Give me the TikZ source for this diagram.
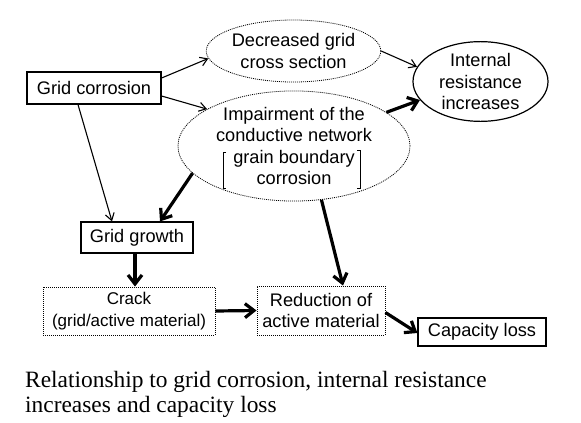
\documentclass[tikz,border=0pt]{standalone}
\usepackage{fontspec}
\setmainfont{Liberation Sans}
\newfontfamily\capfont{Liberation Serif}
\usetikzlibrary{arrows.meta,shapes.geometric}
\begin{document}
\begin{tikzpicture}[x=1pt,y=-1pt]
		\tikzstyle{every node}+=[inner sep=0pt, align=center, font=\fontsize{18.2}{21.5}\selectfont]
		\tikzstyle{solidbox}=[draw=black, line width=1.2pt, rectangle]
		\tikzstyle{dotbox}=[draw=black, line width=0.9pt, dash pattern=on 1pt off 1pt, rectangle]
		\tikzstyle{dotoval}=[draw=black, line width=0.8pt, dash pattern=on 1pt off 1pt, ellipse]
		\tikzstyle{thinarrow}=[black, line width=1.1pt, -{Straight Barb[length=7pt,width=9pt]}]
		\tikzstyle{thickarrow}=[black, line width=3.2pt, -{Straight Barb[length=9pt,width=14pt]}]
		\useasboundingbox (0,0) rectangle (581,423);
		\node [solidbox, minimum width=134pt, minimum height=32pt] (gridcorr) at (94,88) {Grid corrosion};
		\node [dotoval, minimum width=169pt, minimum height=62pt] (decgrid) at (293.5,51) {Decreased grid\\cross section};
		\node [dotoval, minimum width=232pt, minimum height=107pt] (impair) at (294,146) {Impairment of the\\conductive network\\grain boundary\\corrosion};
		\node [draw=black, line width=1.2pt, ellipse, minimum width=135pt, minimum height=73pt] (intres) at (480.5,81.5) {Internal\\resistance\\increases};
		\node [solidbox, minimum width=112pt, minimum height=31pt] (gridgrow) at (137,237.5) {Grid growth};
		\node [dotbox, minimum width=172pt, minimum height=48pt, font=\fontsize{17}{21.5}\selectfont] (crack) at (129,311) {Crack\\(grid/active material)};
		\node [dotbox, minimum width=128pt, minimum height=49pt] (reduct) at (321,310.5) {Reduction of\\active material};
		\node [solidbox, minimum width=128pt, minimum height=28pt] (caploss) at (482,332) {Capacity loss};
		\node [anchor=base west, font=\capfont\fontsize{23.4}{25}\selectfont] (capline1) at (25,387) {Relationship to grid corrosion, internal resistance};
		\node [anchor=base west, font=\capfont\fontsize{23.4}{25}\selectfont] (capline2) at (25,412) {increases and capacity loss};
		\draw [black, line width=0.8pt] (226,152) -- (223,152) -- (223,188) -- (226,188);
		\draw [black, line width=0.8pt] (357,150) -- (360,150) -- (360,188) -- (357,188);
		\draw [thinarrow] ([yshift=10pt]gridcorr.east) -- (decgrid.185);
		\draw [thinarrow] ([yshift=-8pt]gridcorr.east) -- (impair.157);
		\draw [thinarrow] ([xshift=-16pt]gridcorr.south) -- ([xshift=-25pt]gridgrow.north);
		\draw [thinarrow] (decgrid.east) -- (intres.167);
		\draw [thickarrow] (impair.20) -- (intres.197);
		\draw [thickarrow] (impair.195) -- ([xshift=23pt]gridgrow.north);
		\draw [thickarrow] (impair.297) -- ([xshift=22pt]reduct.north);
		\draw [thickarrow] ([xshift=-2pt]gridgrow.south) -- ([xshift=6pt]crack.north);
		\draw [thickarrow] (crack.east) -- (reduct.west);
		\draw [thickarrow] ([yshift=-2pt]reduct.east) -- ([yshift=-1pt]caploss.west);
\end{tikzpicture}
\end{document}
